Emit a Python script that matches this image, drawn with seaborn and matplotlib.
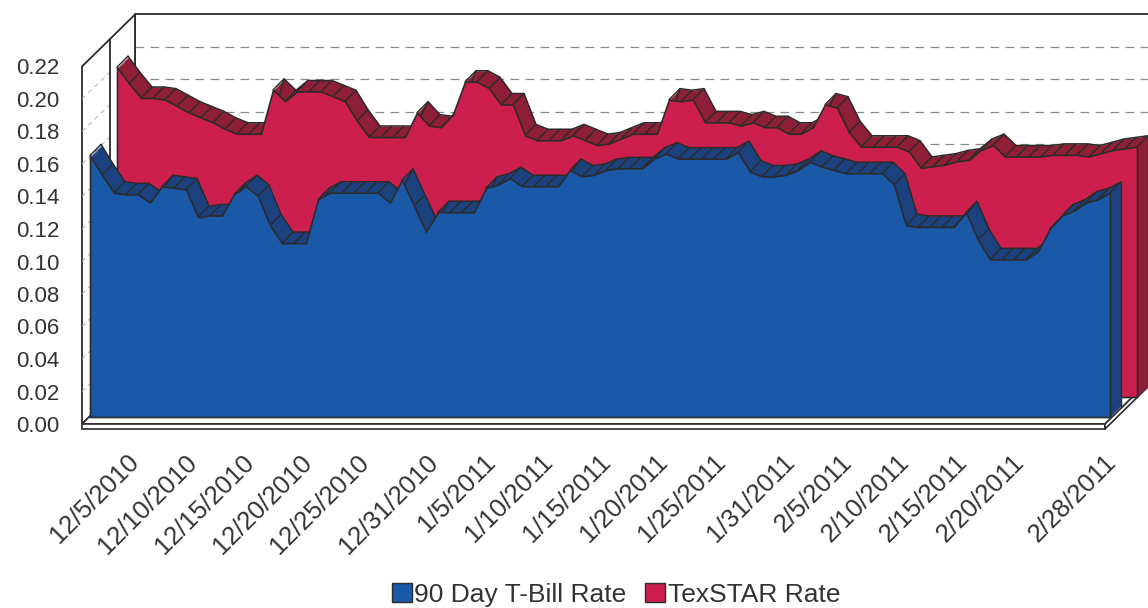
import numpy as np
import pandas as pd
import matplotlib
matplotlib.use('Agg')
import matplotlib.pyplot as plt
from matplotlib.patches import Patch, Polygon
import seaborn as sns

# --- Data (daily, 12/5/2010 - 2/28/2011) ---
DATES = pd.date_range('2010-12-05', '2011-02-28', freq='D')

TBILL = [
    0.161, 0.149, 0.138, 0.137, 0.137, 0.132, 0.142, 0.141, 0.140, 0.123,
    0.124, 0.124, 0.137, 0.142, 0.136, 0.118, 0.107, 0.107, 0.107, 0.134,
    0.138, 0.138, 0.138, 0.138, 0.138, 0.132, 0.146, 0.130, 0.114, 0.126,
    0.126, 0.126, 0.126, 0.141, 0.143, 0.147, 0.142, 0.142, 0.142, 0.142,
    0.152, 0.148, 0.149, 0.152, 0.153, 0.153, 0.153, 0.159, 0.162, 0.159,
    0.159, 0.159, 0.159, 0.159, 0.163, 0.151, 0.148, 0.148, 0.149, 0.152,
    0.157, 0.154, 0.152, 0.150, 0.150, 0.150, 0.150, 0.143, 0.118, 0.117,
    0.117, 0.117, 0.117, 0.126, 0.109, 0.097, 0.097, 0.097, 0.097, 0.102,
    0.116, 0.124, 0.127, 0.132, 0.134, 0.138,
]

TEXSTAR = [
    0.203, 0.193, 0.184, 0.184, 0.183, 0.179, 0.175, 0.172, 0.169, 0.165,
    0.162, 0.162, 0.162, 0.189, 0.182, 0.188, 0.188, 0.188, 0.185, 0.182,
    0.170, 0.160, 0.160, 0.160, 0.160, 0.175, 0.167, 0.166, 0.174, 0.194,
    0.194, 0.190, 0.180, 0.180, 0.161, 0.158, 0.158, 0.158, 0.161, 0.158,
    0.155, 0.156, 0.159, 0.162, 0.162, 0.162, 0.183, 0.182, 0.183, 0.169,
    0.169, 0.169, 0.167, 0.169, 0.166, 0.166, 0.162, 0.162, 0.166, 0.180,
    0.178, 0.163, 0.154, 0.154, 0.154, 0.154, 0.151, 0.141, 0.142, 0.143,
    0.145, 0.146, 0.152, 0.155, 0.148, 0.148, 0.148, 0.148, 0.149, 0.149,
    0.149, 0.148, 0.150, 0.152, 0.153, 0.154,
]

TICK_DATES = ['12/5/2010', '12/10/2010', '12/15/2010', '12/20/2010', '12/25/2010',
              '12/31/2010', '1/5/2011', '1/10/2011', '1/15/2011', '1/20/2011',
              '1/25/2011', '1/31/2011', '2/5/2011', '2/10/2011', '2/15/2011',
              '2/20/2011', '2/28/2011']

SERIES_NAMES = ['90 Day T-Bill Rate', 'TexSTAR Rate']
Y_TICKS = np.arange(0, 0.221, 0.02)

# --- Style ---
BLUE, BLUE_DARK = '#1a59a8', '#1b427f'
RED, RED_DARK = '#cc1f4d', '#8e1f36'
EDGE = '#2b2b2b'
GRID = '#8a8a8a'
TEXT = '#333333'

# --- Layout (pixels on a 1148x608 canvas) ---
W, H = 1148, 608
X0, Y0 = 82, 424          # front-left corner of the floor
PX_DAY, PX_UNIT = 12, 1625
XR = 85.25
YMAX = 0.22
BACK = (53, 52)           # depth of the whole box
MID = (28, 27)
BLUE_POS, RED_POS = (8, 7), (35, 27)
SLAB = (11, 11)           # depth of one series


def off(px, py):
    return px / PX_DAY, py / PX_UNIT


def draw_series(ax, vals, pos, face, dark, z):
    x = np.arange(len(vals), dtype=float)
    v = np.asarray(vals)
    fx, fy = off(*pos)
    dx, dy = off(*SLAB)
    # top / side faces of the extruded area
    for k in np.linspace(0, 1, 14)[1:]:
        ax.fill_between(x + fx + k * dx, fy + k * dy, v + fy + k * dy,
                        color=dark, lw=0, zorder=z, clip_on=False)
    sns.lineplot(x=x + fx + dx, y=v + fy + dy, ax=ax, color=EDGE, lw=1.1,
                 zorder=z + 0.1, clip_on=False, estimator=None, sort=False)
    xs = np.column_stack([x + fx, x + fx + dx, np.full_like(x, np.nan)]).ravel()
    ys = np.column_stack([v + fy, v + fy + dy, np.full_like(v, np.nan)]).ravel()
    ax.plot(xs, ys, color=EDGE, lw=1.0, zorder=z + 0.1, clip_on=False)
    ax.plot([x[-1] + fx + dx] * 2, [fy + dy, v[-1] + fy + dy], color=EDGE,
            lw=1.0, zorder=z + 0.1, clip_on=False)
    # front face
    ax.fill_between(x + fx, fy, v + fy, facecolor=face, edgecolor=EDGE,
                    lw=1.2, zorder=z + 0.2, clip_on=False)


sns.set_style('white')
plt.rcParams['font.family'] = ['Liberation Sans', 'DejaVu Sans']

fig = plt.figure(figsize=(W / 100, H / 100), dpi=100)
ax = fig.add_axes([X0 / W, (H - Y0) / H, XR * PX_DAY / W, YMAX * PX_UNIT / H])
ax.set_xlim(0, XR)
ax.set_ylim(0, YMAX)
ax.patch.set_alpha(0)
for s in ax.spines.values():
    s.set_visible(False)

bx, by = off(*BACK)
mx, my = off(*MID)

# back wall with dashed gridlines
ax.add_patch(Polygon([(bx, by), (bx, YMAX + by), (XR + bx + 6, YMAX + by), (XR + bx + 6, by)],
                     closed=True, fc='white', ec=EDGE, lw=1.3, zorder=1, clip_on=False))
for yv in Y_TICKS[1:-1]:
    ax.plot([bx, XR + bx + 6], [yv + by] * 2, color=GRID, lw=0.9, ls=(0, (7, 5)),
            zorder=1.5, clip_on=False)

# left side wall
ax.add_patch(Polygon([(0, 0), (0, YMAX), (bx, YMAX + by), (bx, by)], closed=True,
                     fc='white', ec=EDGE, lw=1.3, zorder=2, clip_on=False))
for yv in Y_TICKS[1:-1]:
    ax.plot([0, mx], [yv, yv + my], color='#b0b0b0', lw=0.7, ls=(0, (5, 4)),
            zorder=2.5, clip_on=False)
ax.plot([mx, mx], [my, YMAX + my], color=EDGE, lw=1.3, zorder=2.6, clip_on=False)

# floor slab
sx, sy = off(0, -5)
ax.add_patch(Polygon([(0, 0), (XR, 0), (XR + bx, by), (bx, by)], closed=True,
                     fc='white', ec=EDGE, lw=1.2, zorder=3, clip_on=False))
ax.add_patch(Polygon([(0, 0), (XR, 0), (XR, sy), (0, sy)], closed=True,
                     fc='white', ec=EDGE, lw=1.2, zorder=3, clip_on=False))
ax.add_patch(Polygon([(XR, 0), (XR + bx, by), (XR + bx, by + sy), (XR, sy)], closed=True,
                     fc='white', ec=EDGE, lw=1.2, zorder=3, clip_on=False))

draw_series(ax, TEXSTAR, RED_POS, RED, RED_DARK, 4)
draw_series(ax, TBILL, BLUE_POS, BLUE, BLUE_DARK, 6)

ax.set_xticks([])
ax.set_yticks(Y_TICKS)
ax.set_yticklabels([f'{t:.2f}' for t in Y_TICKS])
ax.tick_params(axis='y', length=0, pad=16, labelsize=16, labelcolor=TEXT)
ax.set_xlabel('')
ax.set_ylabel('')

# category labels (slightly compressed scale, like the perspective view)
date_str = [f'{d.month}/{d.day}/{d.year}' for d in DATES]
tick_idx = [date_str.index(t) for t in TICK_DATES]
lab = fig.add_axes([127 / W, (H - 450) / H, 977 / W, 0.0001])
lab.set_xlim(0, len(DATES) - 1)
lab.set_yticks([])
lab.set_xticks(tick_idx)
lab.set_xticklabels(TICK_DATES)
lab.tick_params(axis='x', length=0, pad=0, labelsize=18.5, labelcolor=TEXT)
plt.setp(lab.get_xticklabels(), rotation=45, ha='right', va='top', rotation_mode='anchor')
for s in lab.spines.values():
    s.set_visible(False)
lab.patch.set_alpha(0)

handles = [Patch(facecolor=BLUE, edgecolor=EDGE, label=SERIES_NAMES[0]),
           Patch(facecolor=RED, edgecolor=EDGE, label=SERIES_NAMES[1])]
fig.legend(handles=handles, loc='center', bbox_to_anchor=(616 / W, 1 - 595 / H), ncol=2,
           frameon=False, fontsize=19, handlelength=0.75, handleheight=0.75,
           handletextpad=0.1, columnspacing=0.7, labelcolor=TEXT)

fig.savefig('out.png', dpi=100)
plt.close(fig)
